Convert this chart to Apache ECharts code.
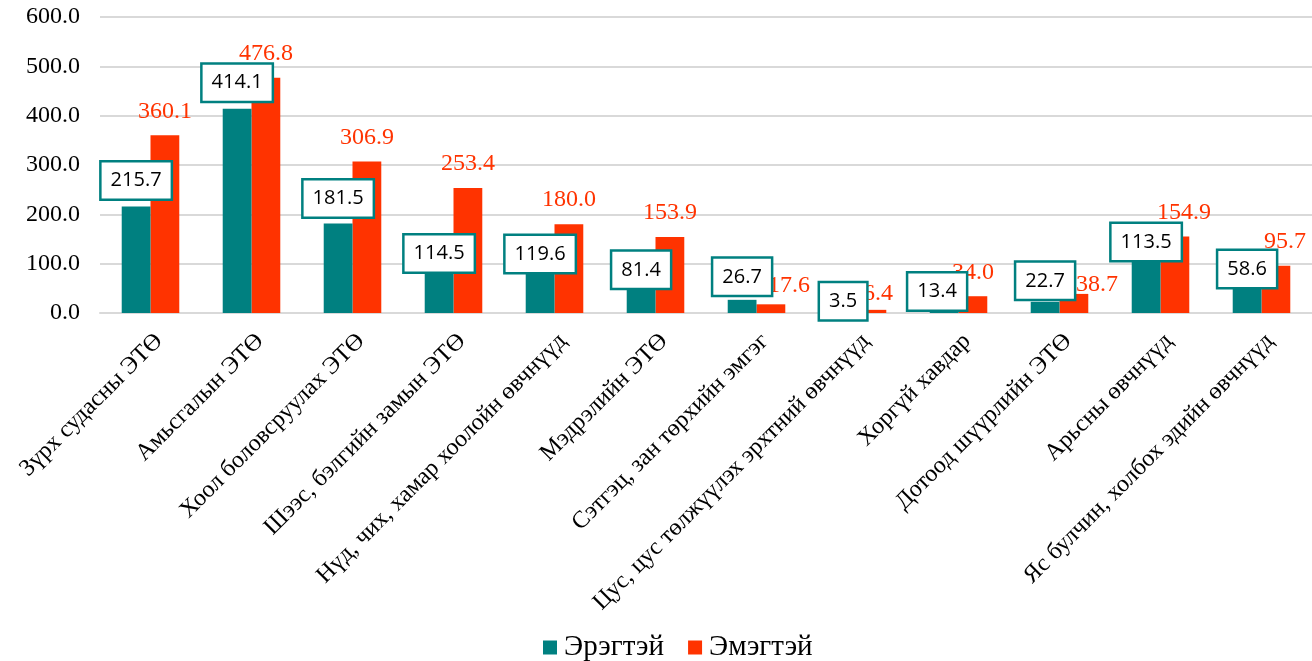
<!DOCTYPE html>
<html>
<head>
<meta charset="utf-8">
<script src="https://cdn.jsdelivr.net/npm/echarts@6/dist/echarts.min.js"></script>
<style>
  html, body { margin: 0; padding: 0; background: #fff; }
  #main { width: 1312px; height: 661px; }
</style>
</head>
<body>
<div id="main"></div>
<script>
// data
var categories = [
    'Зүрх судасны ЭТӨ',
    'Амьсгалын ЭТӨ',
    'Хоол боловсруулах ЭТӨ',
    'Шээс, бэлгийн замын ЭТӨ',
    'Нүд, чих, хамар хоолойн өвчнүүд',
    'Мэдрэлийн ЭТӨ',
    'Сэтгэц, зан төрхийн эмгэг',
    'Цус, цус төлжүүлэх эрхтний өвчнүүд',
    'Хоргүй хавдар',
    'Дотоод шүүрлийн ЭТӨ',
    'Арьсны өвчнүүд',
    'Яс булчин, холбох эдийн өвчнүүд'
];
var seriesNames = ['Эрэгтэй', 'Эмэгтэй'];
var male = [215.7, 414.1, 181.5, 114.5, 119.6, 81.4, 26.7, 3.5, 13.4, 22.7, 113.5, 58.6];
var female = [360.1, 476.8, 306.9, 253.4, 180.0, 153.9, 17.6, 6.4, 34.0, 38.7, 154.9, 95.7];
var yTicks = { min: 0, max: 600, interval: 100 };

// label nudges (as placed by hand in the original)
var maleLabelShift = [[0, 0], [0, 0], [0, 1], [0, 23], [0, 26], [0, 23], [0, 3], [0, 16], [-7, 11], [0, 5], [0, 11], [0, 11]];
var femaleLabelShift = [[0, 0], [0, 0], [0, 0], [0, 0], [0, 0], [0, 0], [18, 5], [6, 8], [0, 0], [23, 15], [9, 0], [9, 0]];

var TEAL = '#008080';
var RED = '#ff3300';
var serif = 'Liberation Serif';

var myChart = echarts.init(document.getElementById('main'));

var maleData = male.map(function (v, i) {
    return { value: v, label: { offset: maleLabelShift[i] } };
});
var femaleData = female.map(function (v, i) {
    return { value: v, label: { offset: femaleLabelShift[i] } };
});

var option = {
    animation: false,
    textStyle: { fontFamily: serif },
    grid: { left: 100, right: 0, top: 17, bottom: 348 },
    legend: {
        top: 628,
        left: 538,
        icon: 'rect',
        itemWidth: 14,
        itemHeight: 14,
        itemGap: 24,
        textStyle: { fontFamily: serif, fontSize: 29, color: '#000', padding: [0, 0, 0, 2] },
        data: seriesNames
    },
    xAxis: {
        type: 'category',
        data: categories,
        axisTick: { show: false },
        axisLine: { lineStyle: { color: '#d9d9d9', width: 2 } },
        axisLabel: {
            rotate: 45,
            interval: 0,
            margin: 16,
            verticalAlign: 'top',
            fontFamily: serif,
            fontSize: 24,
            color: '#000'
        }
    },
    yAxis: {
        type: 'value',
        min: yTicks.min,
        max: yTicks.max,
        interval: yTicks.interval,
        axisLine: { show: false },
        axisTick: { show: false },
        splitLine: { lineStyle: { color: '#d9d9d9', width: 2 } },
        axisLabel: {
            margin: 20,
            fontFamily: serif,
            fontSize: 24,
            color: '#000',
            formatter: function (v) { return v.toFixed(1); }
        }
    },
    series: [{
        name: seriesNames[0],
        type: 'bar',
        data: maleData,
        barGap: '0%',
        barCategoryGap: '43%',
        itemStyle: { color: TEAL },
        z: 3,
        label: {
            show: true,
            position: 'top',
            distance: 8,
            fontFamily: 'Open Sans',
            fontSize: 20,
            color: '#000',
            backgroundColor: '#fff',
            borderColor: TEAL,
            borderWidth: 2.5,
            padding: [8, 9, 8, 9],
            formatter: function (p) { return p.value.toFixed(1); }
        }
    }, {
        name: seriesNames[1],
        type: 'bar',
        data: femaleData,
        itemStyle: { color: RED },
        label: {
            show: true,
            position: 'top',
            distance: 12,
            fontFamily: serif,
            fontSize: 24,
            color: RED,
            formatter: function (p) { return p.value.toFixed(1); }
        }
    }]
};

myChart.setOption(option);
</script>
</body>
</html>
